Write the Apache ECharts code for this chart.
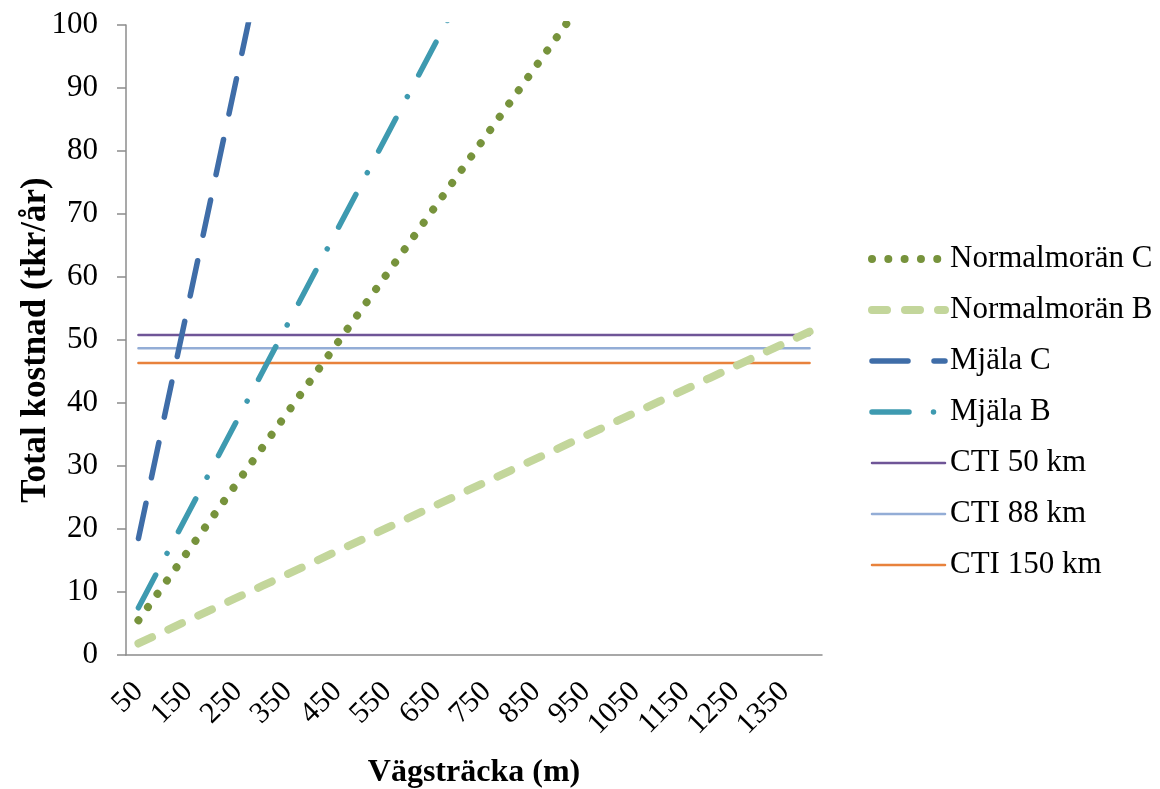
<!DOCTYPE html>
<html>
<head>
<meta charset="utf-8">
<script src="https://cdn.jsdelivr.net/npm/echarts@6/dist/echarts.min.js"></script>
<style>
  html, body { margin: 0; padding: 0; background: #fff; }
  #chart { width: 1160px; height: 789px; }
</style>
</head>
<body>
<div id="chart"></div>
<script>
  // vägsträcka (m)
  const categories = ['50', '100', '150', '200', '250', '300', '350', '400', '450', '500',
    '550', '600', '650', '700', '750', '800', '850', '900', '950', '1000',
    '1050', '1100', '1150', '1200', '1250', '1300', '1350', '1400']

  // total kostnad (tkr/år)
  const normalmoranC = [5.5, 11, 16.5, 22, 27.5, 33, 38.5, 44, 49.5, 55, 60.5, 66, 71.5, 77,
    82.5, 88, 93.5, 99, 104.5]
  const normalmoranB = [1.83, 3.67, 5.5, 7.33, 9.17, 11, 12.83, 14.67, 16.5, 18.33, 20.17, 22,
    23.83, 25.67, 27.5, 29.33, 31.17, 33, 34.83, 36.67, 38.5, 40.33, 42.17, 44, 45.83, 47.67,
    49.5, 51.33]
  const mjalaC = [18.5, 37, 55.5, 74, 92.5, 111]
  const mjalaB = [7.5, 15, 22.5, 30, 37.5, 45, 52.5, 60, 67.5, 75, 82.5, 90, 97.5, 105]
  const cti50 = 50.8
  const cti88 = 48.7
  const cti150 = 46.35

  const font = "'Liberation Serif', 'Times New Roman', serif"

  let chart = echarts.init(document.getElementById('chart'))

  function line (name, data, color, width, dash, z) {
    return {
      name: name,
      type: 'line',
      data: data,
      symbol: 'none',
      showSymbol: false,
      clip: true,
      z: z || 2,
      color: color,
      itemStyle: { color: color, opacity: 0 },
      lineStyle: {
        color: color,
        width: width,
        type: dash || 'solid',
        cap: 'round'
      }
    }
  }

  let option = {
    animation: false,
    backgroundColor: '#fff',
    textStyle: { fontFamily: font },
    grid: {
      left: 126,
      right: 338,
      top: 25,
      bottom: 134,
      containLabel: false,
      outerBoundsMode: 'none'
    },
    legend: {
      orient: 'vertical',
      left: 863,
      top: 237,
      itemWidth: 73,
      itemHeight: 14,
      itemGap: 17,
      itemStyle: { opacity: 0 },
      lineStyle: { width: 'inherit' },
      textStyle: {
        fontFamily: font,
        fontSize: 31,
        color: '#000',
        lineHeight: 34
      },
      data: ['Normalmorän C', 'Normalmorän B', 'Mjäla C', 'Mjäla B', 'CTI 50 km', 'CTI 88 km', 'CTI 150 km']
    },
    xAxis: {
      type: 'category',
      data: categories,
      boundaryGap: true,
      name: 'Vägsträcka (m)',
      nameLocation: 'middle',
      nameGap: 102,
      nameMoveOverlap: false,
      nameTextStyle: {
        fontFamily: font,
        fontSize: 32,
        fontWeight: 'bold',
        color: '#000'
      },
      axisLine: { lineStyle: { color: '#8c8c8c', width: 1.5 } },
      axisTick: { show: false },
      axisLabel: {
        interval: 1,
        rotate: 45,
        margin: 32,
        fontFamily: font,
        fontSize: 30,
        color: '#000'
      },
      splitLine: { show: false }
    },
    yAxis: {
      type: 'value',
      min: 0,
      max: 100,
      interval: 10,
      name: 'Total kostnad (tkr/år)',
      nameLocation: 'middle',
      nameGap: 73,
      nameMoveOverlap: false,
      nameTextStyle: {
        fontFamily: font,
        fontSize: 35,
        fontWeight: 'bold',
        color: '#000'
      },
      axisLine: { show: true, lineStyle: { color: '#8c8c8c', width: 1.5 } },
      axisTick: { show: true, length: 9, lineStyle: { color: '#8c8c8c', width: 1.5 } },
      axisLabel: {
        margin: 28,
        fontFamily: font,
        fontSize: 31,
        color: '#000'
      },
      splitLine: { show: false }
    },
    series: [
      line('Normalmorän C', normalmoranC, '#77933C', 8, [0.01, 16.3]),
      line('Normalmorän B', normalmoranB, '#C3D69B', 8, [15, 18]),
      line('Mjäla C', mjalaC, '#3F6DA8', 5.5, [36, 26]),
      line('Mjäla B', mjalaB, '#3E9AB0', 5.5, [37, 24.5, 0.01, 24.5]),
      line('CTI 50 km', categories.map(() => cti50), '#6F5597', 2.5, 'solid', 1),
      line('CTI 88 km', categories.map(() => cti88), '#93ADD6', 2.5, 'solid', 1),
      line('CTI 150 km', categories.map(() => cti150), '#E8823C', 2.5, 'solid', 1)
    ]
  }

  chart.setOption(option)
</script>
</body>
</html>
